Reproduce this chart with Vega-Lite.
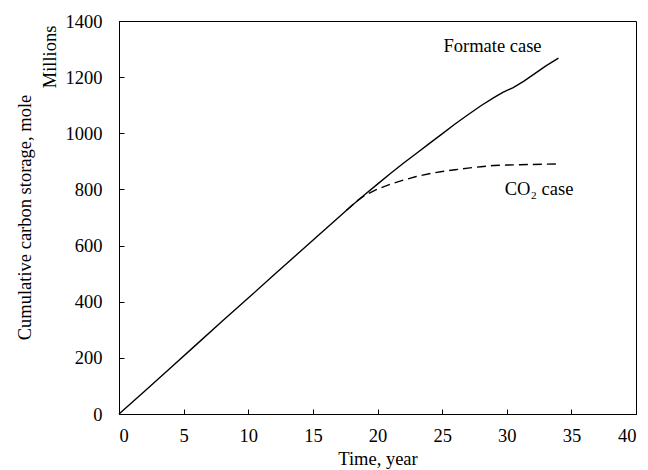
{
  "$schema": "https://vega.github.io/schema/vega-lite/v6.json",
  "width": 517,
  "height": 393,
  "autosize": {"type": "none"},
  "padding": {"left": 119, "top": 21, "right": 12, "bottom": 56},
  "background": "white",
  "config": {
    "font": "Times New Roman, Liberation Serif, serif",
    "view": {"stroke": "black", "strokeWidth": 1},
    "axis": {
      "grid": false,
      "domainColor": "black",
      "tickColor": "black",
      "tickSize": -5,
      "labelColor": "black",
      "titleColor": "black",
      "labelFont": "Times New Roman, Liberation Serif, serif",
      "titleFont": "Times New Roman, Liberation Serif, serif",
      "labelFontSize": 18.5,
      "titleFontSize": 18.5,
      "titleFontWeight": "normal",
      "format": "d"
    }
  },
  "datasets": {
    "storage": [
      {"series": "Formate", "t": 0, "v": 0},
      {"series": "Formate", "t": 2, "v": 82},
      {"series": "Formate", "t": 4, "v": 165},
      {"series": "Formate", "t": 6, "v": 248},
      {"series": "Formate", "t": 8, "v": 331},
      {"series": "Formate", "t": 10, "v": 413},
      {"series": "Formate", "t": 12, "v": 496},
      {"series": "Formate", "t": 14, "v": 578},
      {"series": "Formate", "t": 16, "v": 660},
      {"series": "Formate", "t": 17, "v": 701},
      {"series": "Formate", "t": 18, "v": 742},
      {"series": "Formate", "t": 19, "v": 781},
      {"series": "Formate", "t": 20, "v": 819},
      {"series": "Formate", "t": 21, "v": 857},
      {"series": "Formate", "t": 22, "v": 893},
      {"series": "Formate", "t": 23, "v": 928},
      {"series": "Formate", "t": 24, "v": 963},
      {"series": "Formate", "t": 25, "v": 998},
      {"series": "Formate", "t": 26, "v": 1033},
      {"series": "Formate", "t": 27, "v": 1066},
      {"series": "Formate", "t": 28, "v": 1098},
      {"series": "Formate", "t": 29, "v": 1127},
      {"series": "Formate", "t": 29.7, "v": 1146},
      {"series": "Formate", "t": 30.5, "v": 1163},
      {"series": "Formate", "t": 31.3, "v": 1185},
      {"series": "Formate", "t": 32, "v": 1207},
      {"series": "Formate", "t": 33, "v": 1239},
      {"series": "Formate", "t": 34, "v": 1268},
      {"series": "CO2", "t": 17.6, "v": 726},
      {"series": "CO2", "t": 18, "v": 742},
      {"series": "CO2", "t": 18.5, "v": 762},
      {"series": "CO2", "t": 19, "v": 778},
      {"series": "CO2", "t": 20, "v": 801},
      {"series": "CO2", "t": 21, "v": 819},
      {"series": "CO2", "t": 22, "v": 833},
      {"series": "CO2", "t": 23, "v": 846},
      {"series": "CO2", "t": 24, "v": 856},
      {"series": "CO2", "t": 25, "v": 864},
      {"series": "CO2", "t": 26, "v": 870},
      {"series": "CO2", "t": 27, "v": 876},
      {"series": "CO2", "t": 28, "v": 881},
      {"series": "CO2", "t": 29, "v": 885},
      {"series": "CO2", "t": 30, "v": 887},
      {"series": "CO2", "t": 31, "v": 888},
      {"series": "CO2", "t": 32, "v": 889},
      {"series": "CO2", "t": 33, "v": 890},
      {"series": "CO2", "t": 34, "v": 891}
    ],
    "notes": [
      {"t": 28.9, "v": 1289, "label": "Formate case"},
      {"t": 32.5, "v": 781, "label": "CO₂ case"}
    ],
    "unit": [
      {"t": -5.3, "v": 1272, "label": "Millions"}
    ]
  },
  "layer": [
    {
      "data": {"name": "storage"},
      "transform": [{"filter": "datum.series === 'CO2'"}],
      "mark": {"type": "line", "color": "black", "strokeWidth": 1.4, "strokeDash": [9, 5]},
      "encoding": {
        "x": {
          "field": "t", "type": "quantitative",
          "scale": {"domain": [0, 40], "nice": false},
          "axis": {"values": [0, 5, 10, 15, 20, 25, 30, 35, 40], "title": "Time, year", "labelPadding": 17, "titlePadding": 5, "titleFontWeight": "normal"}
        },
        "y": {
          "field": "v", "type": "quantitative",
          "scale": {"domain": [0, 1400], "nice": false},
          "axis": {"values": [0, 200, 400, 600, 800, 1000, 1200, 1400], "title": "Cumulative carbon storage, mole", "labelPadding": 22, "titleX": -95, "titleY": 196, "titleAngle": 270, "titleAlign": "center", "titleBaseline": "middle", "titleFontWeight": "normal"}
        }
      }
    },
    {
      "data": {"name": "storage"},
      "transform": [{"filter": "datum.series === 'Formate'"}],
      "mark": {"type": "line", "color": "black", "strokeWidth": 1.4},
      "encoding": {
        "x": {"field": "t", "type": "quantitative"},
        "y": {"field": "v", "type": "quantitative"}
      }
    },
    {
      "data": {"name": "notes"},
      "mark": {"type": "text", "align": "center", "baseline": "alphabetic", "fontSize": 18.5, "color": "black", "font": "Times New Roman, Liberation Serif, serif"},
      "encoding": {
        "x": {"field": "t", "type": "quantitative"},
        "y": {"field": "v", "type": "quantitative"},
        "text": {"field": "label"}
      }
    },
    {
      "data": {"name": "unit"},
      "mark": {"type": "text", "align": "center", "baseline": "middle", "angle": 270, "fontSize": 18.5, "color": "black", "font": "Times New Roman, Liberation Serif, serif", "clip": false},
      "encoding": {
        "x": {"field": "t", "type": "quantitative"},
        "y": {"field": "v", "type": "quantitative"},
        "text": {"field": "label"}
      }
    }
  ]
}
